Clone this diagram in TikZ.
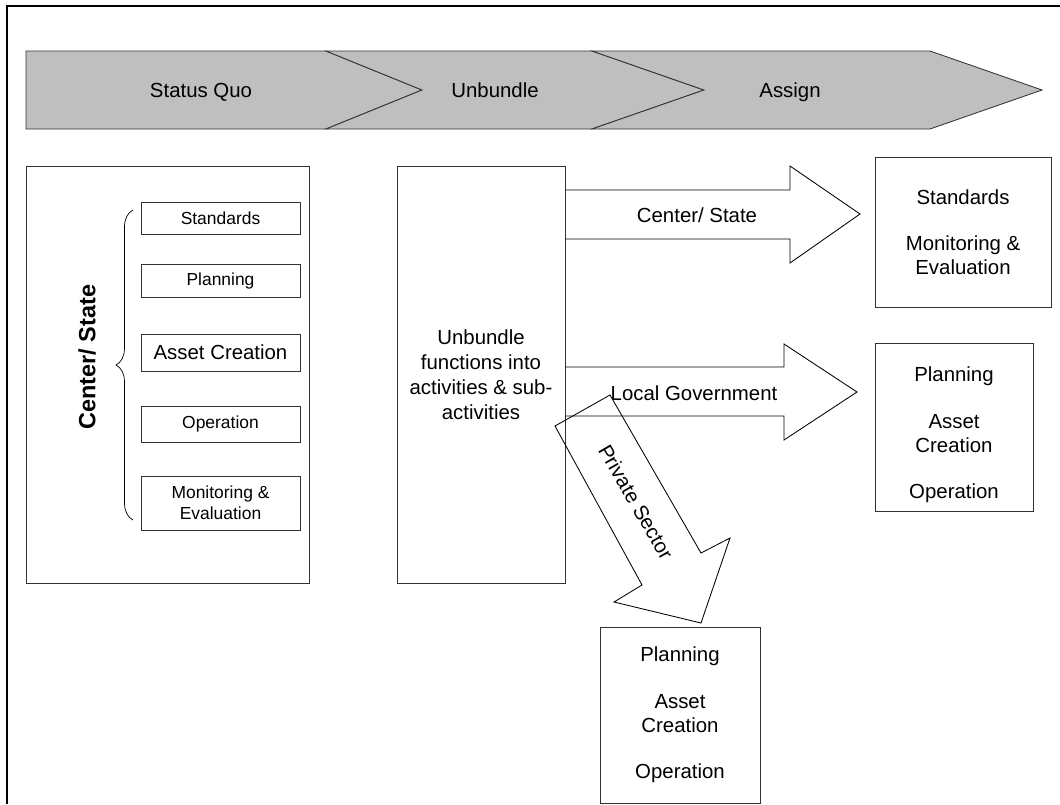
\documentclass[tikz,border=0pt]{standalone}
\usepackage{fontspec}
\setmainfont{Liberation Sans}
\usetikzlibrary{calc,positioning,decorations.pathreplacing}

\begin{document}
\begin{tikzpicture}[x=0.025cm,y=-0.025cm,inner sep=0pt,every node/.style={font=\fontsize{14.5}{17}\selectfont,align=center}]
  % Styles
  \tikzset{frame/.style={line width=1.8pt},
           chevron/.style={draw=black!80,fill=black!25,line width=0.6pt,line join=miter},
           phase/.style={anchor=base},
           panel/.style={draw=black!80,line width=0.6pt},
           item/.style={draw=black!80,line width=0.6pt,minimum width=3.975cm,font=\fontsize{12.4}{15}\selectfont},
           blockarrow/.style={draw=black,line width=0.6pt,line join=miter},
           bracestyle/.style={decorate,decoration={brace,amplitude=0.425cm},line width=0.5pt}}

  \useasboundingbox (0,0) rectangle (1060,804);

  % Outer frame (only top and left edge visible)
  \coordinate (fr) at (7,6);
  \draw[frame] (fr |- 0,804) -- (fr) -- (1060,6);

  % Phase band
  \draw[chevron] (26,51) -- (326,51) -- (422,90) -- (326,129) -- (26,129) -- cycle;
  \draw[chevron] (326,51) -- (592,51) -- (704,90) -- (592,129) -- (326,129) -- (422,90) -- cycle;
  \draw[chevron] (592,51) -- (930,51) -- (1042,90) -- (930,129) -- (592,129) -- (704,90) -- cycle;
  \node[phase] (sq) at (201,97) {Status Quo};
  \node[phase] (unb) at (495,97) {Unbundle};
  \node[phase] (asg) at (790,97) {Assign};

  % Status quo panel
  \node[panel,minimum width=7.075cm,minimum height=10.425cm] (stq) at (167.5,374.5) {};
  \node[item,minimum height=0.8cm] (std) at (220.5,218) {Standards};
  \node[item,minimum height=0.825cm] (pln) at (220.5,280.5) {Planning};
  \node[item,minimum height=0.925cm,font=\fontsize{14.5}{17}\selectfont] (ast) at (220.5,352.5) {Asset Creation};
  \node[item,minimum height=0.9cm] (opr) at (220.5,424) {Operation};
  \node[item,minimum height=1.35cm] (mne) at (220.5,503) {Monitoring \&\\Evaluation};
  \draw[bracestyle] (133,520) -- (133,210);
  \node[rotate=90,font=\fontsize{16.7}{19}\selectfont\bfseries] (cs) at (87,357) {Center/ State};

  % Unbundle panel
  \node[panel,minimum width=4.2cm,minimum height=10.425cm,font=\fontsize{14.5}{17.8}\selectfont] (ub) at (481,374.5)
       {Unbundle\\functions into\\activities \& sub-\\activities};

  % Block arrows out of the unbundle panel
  \draw[blockarrow] (ub.east |- 0,190) -- (790,190) -- (790,166) -- (860,214)
                    -- (790,263) -- (790,239) -- (ub.east |- 0,239);
  \node (csl) at (697,215) {Center/ State};
  \draw[blockarrow] (ub.east |- 0,367) -- (784,367) -- (784,344) -- (857,392)
                    -- (784,440) -- (784,416) -- (ub.east |- 0,416);
  \node (lgl) at (694,393) {Local Government};
  \draw[blockarrow] (610,395) -- (701,553) -- (730,538) -- (701,623)
                    -- (614,602) -- (642,585) -- (555,426) -- cycle;
  \node[rotate=-60] (psl) at (636,502) {Private Sector};

  % Assigned functions
  \node[panel,minimum width=4.4cm,minimum height=3.75cm] (csb) at (963,232)
       {Standards\\[16pt]Monitoring \&\\Evaluation};
  \node[panel,minimum width=3.95cm,minimum height=4.2cm] (lgb) at (954,427) {};
  \node (lgt) at (954,435) {Planning\\[16pt]Asset\\Creation\\[16pt]Operation};
  \node[panel,minimum width=4cm,minimum height=4.4cm] (psb) at (680,715)
       {Planning\\[16pt]Asset\\Creation\\[16pt]Operation};
\end{tikzpicture}
\end{document}
